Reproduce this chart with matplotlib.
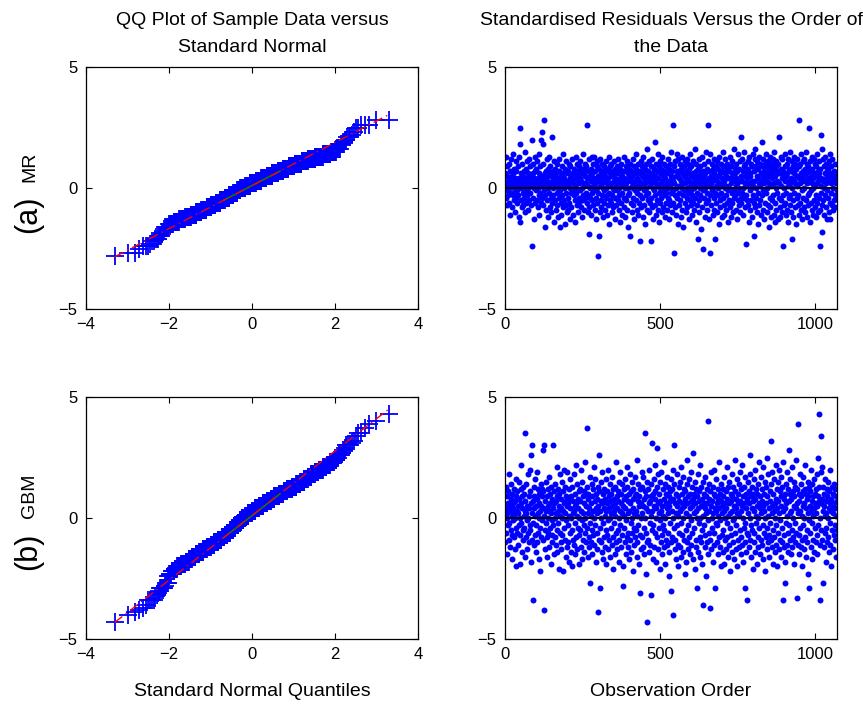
import numpy as np
import matplotlib
matplotlib.use("Agg")
import matplotlib.pyplot as plt
from statistics import NormalDist

# Standardised residuals (observation order 1..n)
mr_resid = [
    0.6, -0.4, 0.2, 1.3, -0.1, 0.5, 0.9, -0.7, 0.1, 0.3, -0.3, 1.0, 0.0, -0.6, 0.4, 0.7, -1.1, 0.2, 1.2, -0.2,
    0.3, -0.8, 0.5, 0.1, -0.3, 1.4, 0.6, -0.5, 0.0, 0.8, -0.2, 0.4, -1.0, 0.2, 0.7, -0.4, 1.1, -0.1, 0.3, -0.6,
    0.9, 0.1, -0.3, 1.3, -1.2, 0.4, 2.5, -1.4, 1.8, 0.2, -0.5, 0.6, 0.0, -0.8, 0.3, 1.0, -0.2, 0.5, -0.7, 0.1,
    -0.4, 0.7, 0.2, -1.0, 1.5, 0.3, -0.1, 0.8, -0.6, 0.4, 1.1, -0.3, 0.0, 0.6, -0.9, 0.2, 1.2, -0.5, 0.5, 0.1,
    -0.2, 0.9, 0.3, -0.7, 0.5, 2.0, 0.1, -2.4, 0.6, -0.4, 1.0, 0.2, -1.3, 0.4, 0.0, 0.7, -0.6, 1.3, -0.1, 0.3,
    0.8, -0.5, 0.2, 1.1, -0.8, 0.4, 0.0, -0.3, 0.6, 1.4, -1.1, 0.3, -0.2, 0.9, 0.1, -0.6, 2.0, 0.5, 2.3, -0.4,
    0.2, 1.0, 1.8, -0.7, 0.4, -0.1, 2.8, 0.6, -0.3, -1.6, 0.7, 0.1, -0.9, 1.2, 0.3, -0.5, 0.8, 0.0, -1.2, 0.5,
    -0.2, 0.6, 1.3, -0.8, 0.2, 0.9, -0.4, 0.1, -1.0, 0.5, 0.3, 2.1, -0.6, 0.7, 0.0, -0.3, 1.1, -1.4, 0.4, 0.2,
    -0.5, 0.8, 0.1, -0.9, 0.6, -0.2, 1.0, 0.3, -0.7, 0.4, -1.2, 0.0, 0.7, -0.4, 1.2, 0.2, -0.1, -1.6, 0.5, -0.6,
    0.3, -1.1, 0.9, 0.1, -0.3, 0.6, -0.8, 1.4, 0.0, -0.5, 0.4, -1.5, 0.8, 0.2, -0.2, 1.1, -0.7, 0.3, -1.0, 0.6,
    0.1, -0.4, 0.7, -0.9, 1.0, 0.2, -0.6, 0.4, -1.3, 0.0, 0.9, -0.2, 0.5, -0.8, 1.2, 0.3, -0.1, 0.6, -1.1, 0.2,
    -0.3, 0.8, 0.4, -1.4, 0.1, 0.6, -0.5, 1.3, -0.2, 0.0, 0.5, -0.7, 1.0, 0.3, -1.0, 0.7, -0.4, 0.2, 0.9, -0.6,
    0.4, -0.1, 1.1, -0.8, 0.3, 0.6, -1.2, 0.0, 0.8, -0.3, 1.4, -0.5, 0.2, 0.7, -0.9, 0.1, 1.0, -0.4, 0.5, -0.2,
    0.9, 0.2, -0.6, 2.6, 0.4, -1.0, 0.1, 0.7, -0.3, 1.2, -0.8, -1.9, 0.5, 0.0, -0.4, 0.8, -1.1, 0.3, 1.3, -0.2,
    0.6, -0.5, 0.1, 1.0, -0.7, 0.4, -0.1, 1.3, -0.9, 0.2, 0.7, -1.3, 0.3, -0.4, 0.9, 0.0, -0.6, 1.1, -2.8, 0.5,
    -0.2, -2.0, 0.8, 0.3, -1.0, 1.2, 0.1, -0.5, 0.6, -0.8, 0.4, 1.0, -0.3, 0.2, -1.2, 0.7, 0.0, -0.6, 0.9, -0.1,
    0.5, -0.9, 0.3, 1.1, -0.4, 0.0, 0.7, -1.1, 0.2, -0.3, 0.8, -0.7, 0.4, 1.3, -0.2, -1.5, 0.6, 0.1, -0.5, 0.9,
    -0.6, 0.2, 1.0, -0.3, 0.5, -1.0, 0.0, 0.7, -0.8, 0.3, 1.1, -0.1, -1.3, 0.4, 0.8, -0.4, 0.1, -0.7, 0.6, 0.2,
    -0.1, 0.9, -0.5, 0.3, 1.2, -0.9, 0.0, 0.6, -0.3, 0.4, -1.4, 0.8, 0.2, -0.6, 1.0, -0.2, 0.5, -1.1, 0.3, 0.7,
    0.1, -0.8, 0.4, 1.3, -0.4, 0.0, 0.7, -1.2, 0.2, 0.9, -0.5, 0.3, -0.9, 1.1, 0.6, -0.3, 0.0, -1.6, 0.5, 0.8,
    -0.2, 0.4, 1.0, -2.0, 0.3, -0.6, 0.7, 0.1, -1.0, 0.5, -0.4, 1.2, 0.0, -0.7, 0.9, 0.2, -1.3, 0.6, -0.1, 0.3,
    0.8, -0.5, 1.4, 0.1, -0.9, 0.4, -0.2, 1.0, -1.1, 0.6, 0.0, 0.3, -0.6, -2.2, 0.7, -0.3, 1.1, 0.2, -0.8, 0.5,
    -0.4, 0.9, 0.1, -1.2, 0.6, 1.3, -0.1, 0.4, -0.7, 0.2, 0.8, -1.5, 0.3, -0.3, 1.0, 0.0, -0.9, 0.5, 1.6, -0.5,
    0.7, -0.2, 0.3, -1.0, 1.1, 0.1, -0.6, 0.5, -2.2, 0.9, -0.4, 0.2, 1.2, -0.8, 0.6, 0.0, -1.3, 0.4, -0.1, 0.8,
    0.3, -0.7, 1.9, 0.5, -0.3, 1.0, -1.1, 0.2, 0.7, -0.5, 0.1, 1.4, -0.9, 0.4, -0.2, 0.9, -1.4, 0.6, 0.0, -0.6,
    1.1, 0.2, -0.4, 0.8, -1.0, 0.3, 1.3, -0.1, 0.5, -0.8, 0.0, 0.7, -0.3, 1.0, -1.2, 0.4, 0.1, -0.6, 0.9, -0.2,
    0.6, -0.9, 0.2, 1.2, -0.4, 0.0, 0.8, -1.3, 0.3, -0.5, 1.0, 0.1, -0.7, 0.5, 1.5, -0.2, 0.4, -1.0, 0.7, -0.1,
    2.6, 0.3, -0.6, -2.7, 0.9, 0.2, -0.3, 1.1, -0.8, 0.5, 0.0, -1.1, 0.7, 1.4, -0.4, 0.1, -1.5, 0.6, 1.2, -0.2,
    0.4, -0.7, 1.0, 0.1, -0.5, 0.8, -1.2, 0.3, 0.0, 1.3, -0.9, 0.6, -0.3, 0.2, -1.6, 0.9, 0.5, -0.1, 1.1, -0.6,
    0.2, 0.7, -1.0, 0.4, -0.4, 1.2, 0.0, -0.8, 0.6, 1.0, -0.2, 0.3, -1.3, 0.8, 0.1, -0.5, 1.4, -0.7, 0.5, -0.1,
    0.9, -0.3, 0.2, -1.1, 0.6, 1.1, -0.6, 0.0, 0.4, -0.9, 1.6, 0.1, -0.4, 0.7, -1.4, 0.3, 1.0, -0.2, 0.5, -0.7,
    -2.1, 0.8, 0.2, -0.5, 1.2, -1.0, 0.4, 0.0, -0.3, 0.9, -1.7, 0.6, 0.1, -0.8, 1.3, 0.3, -0.1, 0.7, -2.5, 0.5,
    -0.4, 1.0, 0.2, -1.2, 0.6, 0.0, 1.5, -0.6, 0.3, -0.2, 0.8, -0.9, 1.1, 2.6, -0.5, 0.4, -1.3, 0.1, 0.7, -0.3,
    1.4, -2.7, 0.5, 0.2, -0.7, 1.0, -0.1, 0.3, -1.1, 0.8, 0.0, 0.6, -0.4, 1.2, -0.9, -2.1, 0.4, -0.2, 0.9, 0.1,
    -0.6, 0.3, 1.1, -1.0, 0.5, 0.0, -0.3, 0.8, -1.5, 0.2, 1.3, -0.5, 0.6, -0.8, 0.1, 1.0, -0.2, 0.4, -1.2, 0.7,
    0.2, -0.4, 0.9, 1.5, -0.7, 0.3, -1.1, 0.6, 0.0, 1.2, -0.3, 0.5, -0.9, 0.1, 0.8, -0.6, 1.0, -1.4, 0.4, -0.1,
    0.7, 0.0, -0.5, 1.3, -0.8, 0.4, 0.2, -1.2, 0.9, -0.2, 0.6, -0.6, 1.1, 0.3, -1.0, 0.5, -0.1, 1.6, -0.4, 0.8,
    -0.3, 0.6, 1.0, -0.9, 0.1, 0.4, -1.3, 0.7, 0.2, -0.5, 1.4, -0.2, 0.8, -0.7, 0.0, 1.1, -1.0, 0.3, 0.5, -0.4,
    2.1, -0.6, 0.3, 1.2, -0.2, 0.7, -1.1, 0.0, 0.9, -0.4, 1.5, 0.2, -0.8, 0.5, 1.0, -0.3, 0.1, -2.3, 0.6, -0.5,
    0.4, 1.1, -0.7, 0.8, -1.4, 0.2, 1.3, -0.1, 0.5, -0.9, 0.6, 0.0, 1.0, -0.5, 0.3, -1.2, 0.9, 0.1, -0.3, 1.4,
    -0.6, -2.0, 0.7, 0.3, 1.2, -0.8, 1.6, 0.0, -0.4, 0.9, -1.0, 0.5, 1.1, -0.2, 0.4, -1.5, 0.8, 0.2, -0.7, 1.3,
    0.1, -0.5, 1.0, 0.6, -1.1, 0.3, 0.9, -0.3, 1.9, -0.9, 0.5, 1.2, -0.1, 0.7, -1.3, 0.2, 1.0, -0.6, 0.4, 0.8,
    -0.2, 1.4, 0.3, -1.0, 0.6, 0.0, 1.1, -0.7, 0.5, -1.6, 0.9, 0.2, -0.4, 1.3, -0.8, 0.7, 0.1, -1.2, 0.6, 1.0,
    -0.5, 0.4, 1.2, -0.3, 0.8, -1.1, 0.2, 1.5, -0.6, 0.5, -1.4, 0.9, 0.0, -0.9, 1.1, 0.3, -0.2, 0.7, -1.3, 0.6,
    1.0, -0.4, 2.1, 0.2, -0.8, 0.6, -1.2, 1.3, 0.1, -0.5, 0.8, -1.0, 0.4, 1.2, -0.3, -2.4, 0.7, -0.7, 0.5, 0.0,
    0.9, -0.6, 0.3, 1.4, -1.1, 0.5, -0.2, 1.0, -0.9, 0.6, 0.1, -1.4, 1.2, 0.3, -0.4, 0.8, -0.7, 0.2, 1.5, -0.3,
    0.4, -1.0, 0.7, -2.1, 1.1, 0.0, -0.5, 0.9, -1.2, 0.3, 1.3, -0.2, 0.6, -0.8, 1.0, 0.2, -1.5, 0.5, 0.8, -0.4,
    0.1, 1.2, -0.7, 0.5, -0.3, 0.9, 2.8, -1.1, 0.4, 1.0, -0.6, 0.2, -0.9, 1.4, 0.6, -0.1, 0.3, -1.3, 0.7, 1.1,
    -0.4, 0.5, 0.0, -0.8, 1.2, 0.3, -1.0, 0.8, 1.5, -0.5, 0.6, -1.2, 0.2, 1.0, -0.3, 0.4, -0.7, 0.9, 2.5, -0.2,
    0.7, -1.4, 0.3, 1.1, -0.6, 0.5, -0.1, 1.3, -0.9, 0.2, 0.8, -1.1, 0.4, 0.0, 1.2, -0.5, 0.6, -0.8, 1.0, 0.1,
    -0.3, 0.9, -1.2, 0.5, 1.4, -0.6, 0.2, 0.7, -1.0, 0.3, 1.1, -0.4, 0.6, -0.9, -2.4, 0.8, 0.1, -0.2, 2.2, 0.4,
    1.6, -0.7, -1.8, 1.2, 0.3, -0.5, 0.9, 0.0, -1.1, 0.6, 1.3, -0.3, 0.4, -0.8, 1.0, 0.2, -1.3, 0.7, -0.1, 0.5,
    0.8, -0.4, 1.1, -1.0, 0.3, 0.6, -0.6, 1.4, -1.3, 0.2, 0.9, -0.2, 0.5, -0.7, 1.2, 0.0, -0.9, 0.4, 0.7, -0.5,
    0.3, -0.3, 0.6, -0.8, 1.0, 0.2, -0.4, 0.5, -0.1, 0.4,
]

gbm_resid = [
    -1.0, 0.4, 1.3, -0.6, 0.2, -1.5, 0.9, 0.0, -0.3, 1.1, 0.6, -0.9, 1.8, -0.2, 0.5, -1.2, 0.3, 0.8, -0.5, 1.4,
    -0.7, 0.1, 1.0, -1.7, 0.6, -0.1, 0.4, 1.2, -0.8, 0.2, -1.3, 0.7, 0.0, 1.6, -0.4, 0.9, -2.0, 0.3, -0.6, 1.1,
    0.5, -1.1, 0.2, 1.5, -0.3, 0.8, -1.9, 0.0, -0.7, 2.2, 0.6, -0.2, 1.2, -1.4, 0.4, 0.9, -0.5, 1.3, -0.9, 0.1,
    -0.4, 1.0, 0.3, -1.6, 0.7, 3.5, -0.8, 0.2, 1.4, -0.1, -1.3, 0.5, 1.8, -0.6, 0.0, 0.9, -1.0, 0.4, 2.0, -0.3,
    1.1, -0.5, 0.6, -1.8, 2.6, 0.2, 3.0, -0.9, -3.4, 0.7, -0.2, 1.3, -1.1, 0.4, 0.9, -0.7, 0.1, 1.6, -1.4, 0.5,
    -0.3, 0.8, 1.9, -1.0, 0.2, -0.6, 1.2, 0.0, -1.7, 0.6, 1.0, -0.4, 0.3, -2.2, 1.4, -0.8, 0.5, 0.9, -0.1, 1.2,
    -0.9, 0.4, 2.8, 1.1, -3.8, 0.1, 3.0, -0.5, 0.7, -1.3, 0.3, 1.5, -0.2, -0.8, 0.9, -1.6, 0.0, 1.2, -0.6, 0.5,
    1.7, -1.2, 0.3, -0.4, 1.0, 0.6, -1.9, 0.2, 1.3, -0.7, 0.8, -0.1, -1.0, 0.4, 3.0, -0.3, 1.1, -1.5, 0.6, 0.0,
    -0.8, 1.4, 0.2, -1.1, 0.7, 2.1, -0.5, 0.9, -1.4, 0.3, 1.2, -0.2, -2.1, 0.5, 1.0, -0.6, 0.1, 1.8, -1.0, 0.4,
    0.8, -1.3, 0.0, 1.5, -0.7, 0.3, -2.2, 1.1, 0.6, -0.4, 2.0, -0.9, 0.2, 1.3, -1.6, 0.7, -0.1, 0.9, -1.2, 0.5,
    1.9, -0.3, 0.6, -1.0, 1.2, 0.1, -1.8, 0.8, -0.6, 0.4, 1.6, -1.4, 0.0, 0.9, -0.5, 1.3, -2.0, 0.2, 0.7, -0.9,
    0.3, 1.8, -1.1, 0.5, -0.2, 1.0, -1.5, 0.6, 2.2, -0.8, 0.1, -1.3, 1.4, 0.4, -0.4, 0.8, -1.9, 1.1, 0.0, -0.7,
    1.2, -0.5, 0.7, 2.0, -1.2, 0.3, -0.1, 1.5, -1.7, 0.9, 0.2, -0.9, 1.1, -0.3, 0.6, -1.4, 2.3, 0.0, -0.6, 1.0,
    -1.0, 0.5, 1.3, 3.7, -0.4, 0.8, -1.6, 0.2, 1.0, -0.8, 0.4, -1.2, 1.7, -0.2, -2.7, 0.6, 0.1, -1.0, 1.4, -0.5,
    0.9, -1.5, 0.3, 1.2, -0.7, 2.1, 0.0, -1.1, 0.7, -0.3, 1.6, -1.8, 0.4, 1.0, -0.6, 0.2, -1.3, 0.8, 1.3, -3.9,
    0.5, 2.6, -0.9, 1.1, -2.9, 0.3, -0.4, 1.5, -1.0, 0.7, 0.0, -1.4, 1.9, 0.6, -0.2, 1.0, -1.7, 0.4, 1.2, -0.8,
    0.1, -1.2, 0.8, 1.6, -0.5, 0.3, -1.9, 1.1, 0.6, -0.7, 2.0, -0.1, -1.3, 0.9, 0.4, -0.9, 1.4, 0.0, -1.6, 0.7,
    1.0, -0.4, 0.2, -1.1, 1.7, 0.5, -0.8, 1.2, -2.1, 0.3, 0.8, -0.2, 1.3, -1.5, 0.6, 0.1, -1.0, 2.3, -0.6, 0.9,
    -1.3, 0.4, 1.1, -0.5, 0.7, -1.8, 0.0, 1.5, -0.9, 0.3, 1.9, -0.3, 0.6, -1.2, 1.0, -0.7, 0.2, 1.4, -2.0, 0.5,
    -2.8, 0.8, 1.2, -0.4, 0.1, -1.0, 1.6, 0.4, -1.5, 0.9, -0.1, 1.3, -0.8, 2.1, 0.2, -1.2, 0.7, -0.6, 1.0, -1.7,
    0.3, 1.8, -0.9, 0.6, -0.2, 1.1, -1.4, 0.0, 1.5, -0.6, 0.8, -2.2, 0.4, 1.2, -1.1, 0.2, -0.4, 1.7, -0.8, 0.9,
    -0.5, 1.0, 0.3, -1.6, 2.4, 0.1, -1.0, 0.7, -0.3, 1.4, 0.5, -1.9, 0.9, -0.7, 1.2, -3.1, 0.0, 0.6, -1.3, 1.9,
    0.2, -0.8, 1.3, -1.2, 0.5, 1.7, -0.4, 0.8, -1.5, 3.5, 0.0, 1.1, -0.6, -2.3, 0.4, 0.9, -1.0, -4.3, 1.5, 0.3,
    -0.9, 1.2, 0.6, -1.4, 2.0, -0.2, 0.7, -1.1, 1.4, 0.1, -3.2, 0.9, -0.5, 3.1, 0.3, -1.7, 1.0, -0.3, 1.6, 0.5,
    -1.2, 0.8, 2.2, -0.6, 1.1, 0.0, -1.8, 0.4, 1.3, 2.9, -0.8, 0.6, -1.3, 1.8, 0.2, -0.4, 1.0, -2.1, 0.7, -0.1,
    1.5, -1.0, 0.3, 1.9, -0.7, 0.5, -1.5, 1.2, 0.1, -0.3, 2.3, -1.2, 0.8, -0.5, 1.4, 0.0, -1.9, 0.6, 1.0, -0.9,
    0.4, 1.7, -1.1, 0.2, -0.6, 1.3, -2.4, 0.9, 0.5, -1.4, 1.1, -0.2, 0.7, -1.0, 1.6, -3.0, 0.3, -0.8, 1.2, 0.0,
    2.0, -4.0, 0.8, 3.0, -0.4, 1.4, -1.3, 0.6, -0.9, 1.0, 0.2, -1.7, 1.8, -0.3, 0.5, -1.1, 0.9, 0.1, -2.0, 1.3,
    -0.6, 0.7, 1.5, -1.2, 0.3, -0.2, 2.1, -1.6, 0.6, 1.0, -0.7, 0.4, -1.4, 1.7, 0.0, -0.9, 1.2, 0.5, -2.3, 0.8,
    1.1, -0.5, 0.2, -1.8, 1.4, 0.6, -1.0, 2.4, -0.3, 0.9, -1.3, 0.1, 1.6, -0.8, 0.4, 1.0, -1.5, 0.7, -0.1, 1.9,
    -1.1, 0.5, 1.3, -0.6, 0.8, 2.7, -1.7, 0.2, 1.0, -0.4, 1.5, -2.1, 0.6, -0.9, 0.3, 1.2, -1.2, 0.0, -2.9, 0.9,
    0.4, -1.4, 1.8, -0.2, 0.7, 1.1, -0.8, 0.0, -1.6, 2.2, 0.5, -1.0, 1.3, -0.5, 0.8, -1.9, 0.1, 1.5, -3.6, 0.6,
    -0.3, 1.0, -1.2, 0.4, 1.7, -0.7, 0.9, -2.4, 0.2, 1.2, -1.0, 0.6, -0.1, 4.0, -1.5, 0.3, 1.4, -0.6, 0.8, -3.7,
    1.1, -0.9, 0.5, 1.9, -1.3, 0.0, 0.7, -0.4, 1.3, -1.8, 0.2, 1.0, -0.6, 2.0, -1.1, 0.4, 0.9, -2.9, 0.3, -0.2,
    1.6, -1.0, 0.6, -0.3, 1.2, -1.5, 0.1, 0.8, -0.8, 2.3, 0.4, -1.2, 1.0, -0.1, 0.7, -2.0, 1.4, 0.2, -0.7, 0.5,
    -1.4, 0.9, 1.2, -0.5, 0.3, -1.9, 1.7, 0.0, -0.9, 0.6, 1.1, -1.3, 0.4, -0.2, 2.1, -0.8, 0.8, -1.6, 1.3, 0.1,
    0.6, -1.1, 1.5, -0.4, 0.2, -2.2, 1.0, 0.7, -0.7, 1.8, -1.4, 0.3, 0.9, -0.1, -1.0, 1.3, 0.5, -1.7, 0.0, 2.4,
    -0.6, 1.1, 0.4, -1.3, 0.8, -0.3, 1.6, -2.0, 0.2, 1.0, -0.9, 0.6, 1.4, -1.2, 0.1, -0.5, 1.9, 0.7, -1.5, 0.3,
    1.2, -0.8, 0.5, 2.2, -1.1, 0.0, 0.9, -1.8, 1.3, -0.4, 0.6, -1.0, 1.7, -0.2, -2.9, 0.4, 1.0, -1.4, 0.8, -0.6,
    -3.4, 1.5, 0.2, -0.7, 1.1, -1.2, 0.6, 0.0, 1.8, -0.9, 2.6, -0.3, 0.9, -1.6, 0.4, 1.3, -0.5, 0.7, -2.1, 1.0,
    0.3, -1.0, 1.6, -0.6, 0.8, 2.0, -1.4, 0.1, 1.2, -0.2, -1.9, 0.5, 1.0, -0.8, 1.4, 0.0, -1.2, 0.6, 2.3, -0.4,
    0.9, -1.5, 0.4, 1.7, -0.9, 0.2, -1.1, 1.2, 0.7, -0.3, 2.1, -1.7, 0.5, 1.0, -0.6, 0.3, -2.2, 1.5, 0.0, -0.8,
    1.3, 0.6, -1.3, 2.5, -0.4, 0.9, -1.0, 0.1, 1.8, -0.7, 0.4, -1.6, 1.1, 0.7, -0.2, 3.2, -0.9, 1.4, 0.2, -1.2,
    0.5, 1.9, -0.5, -1.9, 1.0, 0.3, -0.8, 1.6, -1.4, 0.6, 0.0, 2.2, -1.1, 0.8, -0.3, 1.2, -2.0, 0.4, 1.5, -0.6,
    0.7, -1.3, 2.0, 0.2, -0.9, 1.1, -0.1, 1.7, -1.6, 0.5, 0.9, -0.4, 1.3, -1.0, -3.4, 0.3, 2.3, -0.7, 0.8, -1.2,
    1.0, 0.4, -1.8, -2.7, 1.4, -0.2, 0.6, -1.1, 1.9, 0.1, -0.6, 1.2, -1.4, 0.7, 2.8, -0.3, 1.0, -0.9, 0.2, 1.6,
    -1.5, 0.8, 0.3, -0.5, 2.1, -1.2, 1.1, 0.0, -0.8, 1.5, 0.5, -1.9, 0.9, -0.2, 1.3, -1.0, 0.4, 2.4, -0.6, -3.3,
    0.6, 1.2, -1.1, 3.9, 0.2, -0.7, 1.0, -1.5, 0.7, 1.8, -0.4, 0.3, -1.2, 0.9, 1.4, -0.9, 0.1, -2.0, 1.1, 0.5,
    -0.3, 1.7, -1.3, 0.6, 0.0, 1.2, -0.8, 2.2, -1.6, 0.4, 1.0, -0.5, 0.8, -1.0, 1.5, 0.2, -2.3, 0.9, -0.1, 1.3,
    -2.9, 0.5, 1.1, -0.6, 0.3, 2.0, -1.2, 0.7, -0.2, 1.4, -1.7, 0.1, 0.9, -0.9, 1.6, 0.4, -1.4, 1.0, 0.6, -0.4,
    1.2, -1.0, 0.2, 1.8, -0.7, 0.5, -1.5, 0.9, 2.5, -0.3, 0.7, 4.3, 1.3, -3.4, 0.0, -1.1, 0.6, 1.9, 3.4, -0.5,
    0.8, 2.1, -0.9, 1.3, 0.3, -2.7, 0.5, -1.2, 1.0, 0.1, -0.6, 1.6, -1.8, 0.7, 0.2, -0.4, 1.2, -1.0, 0.9, 0.0,
    1.5, -0.8, 0.4, -1.4, 1.1, 0.6, -0.2, 2.0, -1.1, 0.3, 0.8, -2.0, 1.3, -0.5, 0.5, 1.0, -1.3, 0.2, -0.7, 1.4,
    0.6, -0.9, 1.2, -0.3, 0.4, -1.6, 0.9, 0.1, -0.5, 0.7,
]

row_tags = ["(a)", "(b)"]
row_names = ["MR", "GBM"]
series = [mr_resid, gbm_resid]

qq_title = "QQ Plot of Sample Data versus\nStandard Normal"
res_title = "Standardised Residuals Versus the Order of\nthe Data"
qq_xlabel = "Standard Normal Quantiles"
res_xlabel = "Observation Order"
qq_xticks = [-4, -2, 0, 2, 4]
res_xticks = [0, 500, 1000]
yticks = [-5, 0, 5]

plt.rcParams["font.family"] = ["Liberation Sans", "DejaVu Sans"]
plt.rcParams["axes.linewidth"] = 0.9

W, H = 863, 704
fig = plt.figure(figsize=(W / 100, H / 100), dpi=100)


def ax_rect(left, top, right, bottom):
    return [left / W, 1 - bottom / H, (right - left) / W, (bottom - top) / H]


def style(ax):
    ax.tick_params(direction="in", top=True, right=True, length=4, width=0.8,
                   labelsize=12, pad=6)
    for s in ax.spines.values():
        s.set_color("black")


nd = NormalDist()
tops = [67, 397]
bottoms = [309, 639]
title_fs = 14
label_fs = 14

for r, vals in enumerate(series):
    y = np.asarray(vals, dtype=float)
    n = len(y)

    # --- QQ plot ---
    ax = fig.add_axes(ax_rect(86, tops[r], 418, bottoms[r]))
    ys = np.sort(y)
    xq = np.array([nd.inv_cdf((i - 0.5) / n) for i in range(1, n + 1)])
    q1, q3 = np.percentile(ys, [25, 75])
    t1, t3 = nd.inv_cdf(0.25), nd.inv_cdf(0.75)
    slope = (q3 - q1) / (t3 - t1)
    icpt = q1 - slope * t1
    ax.plot(xq, ys, "+", color="#0000ff", ms=13, mew=1.3, zorder=2)
    ax.plot([t1, t3], [q1, q3], "-", color="#007f00", lw=1.2, zorder=3)
    ax.plot([xq[0], xq[-1]], [icpt + slope * xq[0], icpt + slope * xq[-1]],
            linestyle=(0, (7, 3, 1, 3)), color="#ff0000", lw=1.0, zorder=4)
    ax.set_xlim(-4, 4)
    ax.set_ylim(-5, 5)
    ax.set_xticks(qq_xticks)
    ax.set_yticks(yticks)
    style(ax)
    if r == 0:
        ax.set_title(qq_title, fontsize=title_fs, pad=11, linespacing=1.75)
    else:
        ax.set_xlabel(qq_xlabel, fontsize=label_fs, labelpad=15)

    # --- residuals vs order ---
    ax2 = fig.add_axes(ax_rect(505, tops[r], 837, bottoms[r]))
    idx = np.arange(1, n + 1)
    ax2.plot(idx, y, "o", color="#0000ff", ms=4.3, mec="none", zorder=2)
    ax2.plot([0, n], [0, 0], "-", color="black", lw=1.4, zorder=3)
    ax2.set_xlim(0, n)
    ax2.set_ylim(-5, 5)
    ax2.set_xticks(res_xticks)
    ax2.set_yticks(yticks)
    style(ax2)
    if r == 0:
        ax2.set_title(res_title, fontsize=title_fs, pad=11, linespacing=1.75)
    else:
        ax2.set_xlabel(res_xlabel, fontsize=label_fs, labelpad=15)

# row labels "(a) MR", "(b) GBM"
tag_y = [214, 551]
name_y = [167, 496]
for r in range(2):
    fig.text(36 / W, 1 - tag_y[r] / H, row_tags[r], rotation=90, fontsize=22,
             ha="center", va="baseline", rotation_mode="anchor")
    fig.text(34 / W, 1 - name_y[r] / H, row_names[r], rotation=90, fontsize=14,
             ha="center", va="baseline", rotation_mode="anchor")

fig.savefig("out.png", dpi=100)
